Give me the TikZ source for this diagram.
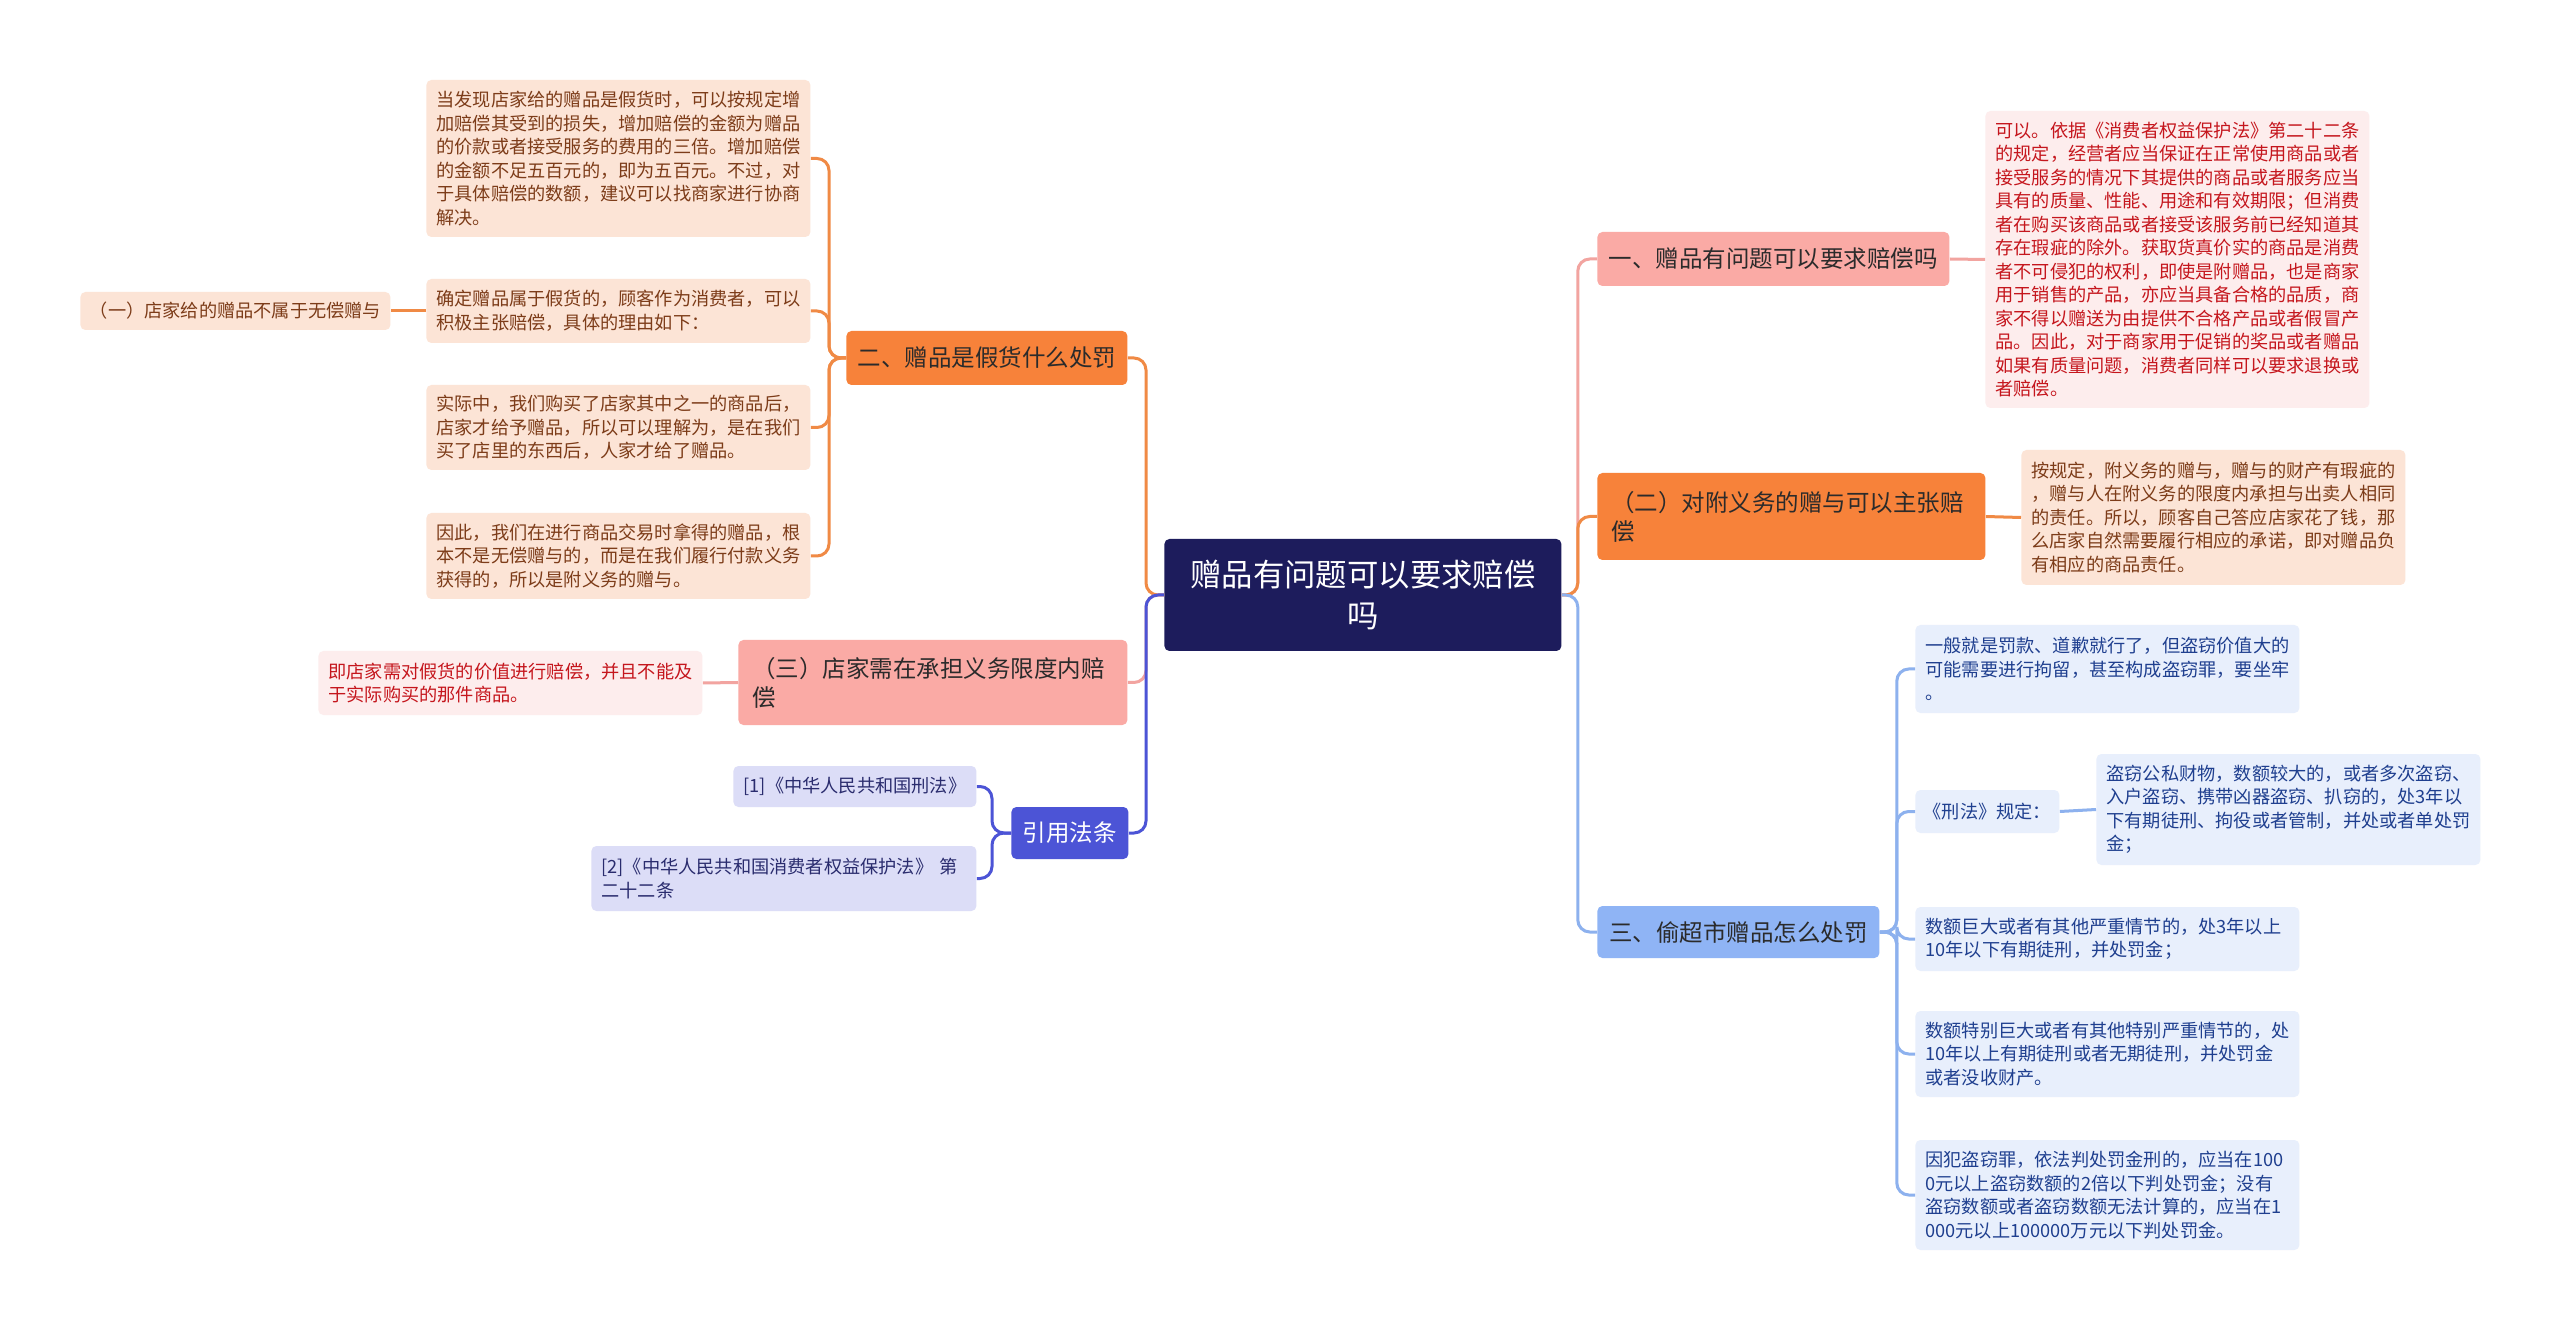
\documentclass[tikz,border=0pt]{standalone}
\usepackage{fontspec}
\setmainfont{Noto Sans CJK SC}
\definecolor{navy}{HTML}{1D1C5C}
\definecolor{orng}{HTML}{F7823A}
\definecolor{orngL}{HTML}{F08A45}
\definecolor{peach}{HTML}{FCE4D6}
\definecolor{peachT}{HTML}{7D3C19}
\definecolor{pnk}{HTML}{FAAAA5}
\definecolor{pnkL}{HTML}{F2A4A0}
\definecolor{pnkF}{HTML}{FDEDED}
\definecolor{pnkT}{HTML}{C5161D}
\definecolor{vio}{HTML}{4C54D6}
\definecolor{lav}{HTML}{DCDDF7}
\definecolor{lavT}{HTML}{2A2C6E}
\definecolor{blu}{HTML}{8FB4F5}
\definecolor{bluL}{HTML}{8DB1EE}
\definecolor{bluF}{HTML}{E8EFFC}
\definecolor{bluT}{HTML}{1F3F8F}
\definecolor{darkT}{HTML}{2B2B2B}
\tikzset{
  base/.style={anchor=west, rounded corners=2.5pt, inner ysep=0pt},
  small/.style={font=\fontsize{9.1pt}{11.75pt}\selectfont},
  big/.style={font=\fontsize{11.75pt}{14.5pt}\selectfont},
  detail/.style={base, small, inner xsep=5pt, text width=182pt, align=left},
  peachbox/.style={detail, fill=peach, text=peachT},
  redbox/.style={detail, fill=pnkF, text=pnkT},
  lavbox/.style={base, small, fill=lav, text=lavT},
  bluebox/.style={detail, fill=bluF, text=bluT},
  branch/.style={base, big, text=darkT},
  conn/.style={line width=1.5pt, rounded corners=6pt},
  orL/.style={conn, draw=orngL},
  pkL/.style={conn, draw=pnkL},
  vlL/.style={conn, draw=vio},
  blL/.style={conn, draw=bluL},
}
\begin{document}
\begin{tikzpicture}[x=0.5pt, y=-0.5pt]
\useasboundingbox[fill=white] (0,0) rectangle (2560,1331);

% centre
\node[base, fill=navy, text=white, font=\fontsize{15.7pt}{20.5pt}\selectfont, align=center, minimum width=198.5pt, minimum height=56pt] (c) at (1164,595) {赠品有问题可以要求赔偿\\吗};

% left branches
\node[branch, fill=orng, minimum width=140.5pt, minimum height=27pt, align=center] (b2) at (846,358) {二、赠品是假货什么处罚};
\node[peachbox, minimum height=78.5pt] (t1) at (426,158.5) {当发现店家给的赠品是假货时，可以按规定增\\加赔偿其受到的损失，增加赔偿的金额为赠品\\的价款或者接受服务的费用的三倍。增加赔偿\\的金额不足五百元的，即为五百元。不过，对\\于具体赔偿的数额，建议可以找商家进行协商\\解决。};
\node[peachbox, minimum height=32pt] (t2) at (426,311) {确定赠品属于假货的，顾客作为消费者，可以\\积极主张赔偿，具体的理由如下：};
\node[base, small, fill=peach, text=peachT, minimum width=155pt, minimum height=19pt, align=center] (y1) at (80,311) {（一）店家给的赠品不属于无偿赠与};
\node[peachbox, minimum height=42.5pt] (t3) at (426,427.5) {实际中，我们购买了店家其中之一的商品后，\\店家才给予赠品，所以可以理解为，是在我们\\买了店里的东西后，人家才给了赠品。};
\node[peachbox, minimum height=43pt] (t4) at (426,556) {因此，我们在进行商品交易时拿得的赠品，根\\本不是无偿赠与的，而是在我们履行付款义务\\获得的，所以是附义务的赠与。};

\node[branch, fill=pnk, inner xsep=7pt, text width=180.5pt, align=left, minimum height=42.5pt] (b3) at (738,682.5) {（三）店家需在承担义务限度内赔\\偿};
\node[redbox, minimum height=32pt] (b3c) at (318,683) {即店家需对假货的价值进行赔偿，并且不能及\\于实际购买的那件商品。};

\node[base, big, fill=vio, text=white, minimum width=58.5pt, minimum height=26pt, align=center] (bl) at (1011,833) {引用法条};
\node[lavbox, minimum width=121.5pt, minimum height=20.5pt, align=center] (l1) at (733,786.5) {[1]《中华人民共和国刑法》};
\node[lavbox, inner xsep=5pt, text width=182.5pt, align=left, minimum height=32.5pt] (l2) at (591,878.5) {[2]《中华人民共和国消费者权益保护法》 第\\二十二条};

% right branches
\node[branch, fill=pnk, minimum width=176pt, minimum height=27pt, align=center] (r1) at (1597,259) {一、赠品有问题可以要求赔偿吗};
\node[redbox, minimum height=148.5pt] (r1c) at (1985,259.5) {可以。依据《消费者权益保护法》第二十二条\\的规定，经营者应当保证在正常使用商品或者\\接受服务的情况下其提供的商品或者服务应当\\具有的质量、性能、用途和有效期限；但消费\\者在购买该商品或者接受该服务前已经知道其\\存在瑕疵的除外。获取货真价实的商品是消费\\者不可侵犯的权利，即使是附赠品，也是商家\\用于销售的产品，亦应当具备合格的品质，商\\家不得以赠送为由提供不合格产品或者假冒产\\品。因此，对于商家用于促销的奖品或者赠品\\如果有质量问题，消费者同样可以要求退换或\\者赔偿。};

\node[branch, fill=orng, inner xsep=7pt, text width=180pt, align=left, minimum height=43.5pt] (r2) at (1597,516.5) {（二）对附义务的赠与可以主张赔\\偿};
\node[peachbox, minimum height=67.5pt] (r2c) at (2021,517.5) {按规定，附义务的赠与，赠与的财产有瑕疵的\\，赠与人在附义务的限度内承担与出卖人相同\\的责任。所以，顾客自己答应店家花了钱，那\\么店家自然需要履行相应的承诺，即对赠品负\\有相应的商品责任。};

\node[branch, fill=blu, minimum width=141pt, minimum height=26pt, align=center] (r3) at (1597,932) {三、偷超市赠品怎么处罚};
\node[bluebox, minimum height=44pt] (s1) at (1915,669) {一般就是罚款、道歉就行了，但盗窃价值大的\\可能需要进行拘留，甚至构成盗窃罪，要坐牢\\。};
\node[base, small, fill=bluF, text=bluT, minimum width=72pt, minimum height=21.5pt, align=center] (s2) at (1915,811.5) {《刑法》规定：};
\node[bluebox, minimum height=55.5pt] (s2c) at (2096,809.5) {盗窃公私财物，数额较大的，或者多次盗窃、\\入户盗窃、携带凶器盗窃、扒窃的，处3年以\\下有期徒刑、拘役或者管制，并处或者单处罚\\金；};
\node[bluebox, minimum height=32pt] (s3) at (1915,939) {数额巨大或者有其他严重情节的，处3年以上\\10年以下有期徒刑，并处罚金；};
\node[bluebox, minimum height=43pt] (s4) at (1915,1054) {数额特别巨大或者有其他特别严重情节的，处\\10年以上有期徒刑或者无期徒刑，并处罚金\\或者没收财产。};
\node[bluebox, minimum height=55pt] (s5) at (1915,1195) {因犯盗窃罪，依法判处罚金刑的，应当在100\\0元以上盗窃数额的2倍以下判处罚金；没有\\盗窃数额或者盗窃数额无法计算的，应当在1\\000元以上100000万元以下判处罚金。};

% connectors
\draw[orL] (c.west) -- ++(-18,0) |- (b2.east);
\draw[pkL] (c.west) -- ++(-18,0) |- (b3.east);
\draw[vlL] (c.west) -- ++(-18,0) |- (bl.east);
\draw[pkL] (c.east) -- ++(16,0) |- (r1.west);
\draw[orL] (c.east) -- ++(16,0) |- (r2.west);
\draw[blL] (c.east) -- ++(16,0) |- (r3.west);

\foreach \t in {t1,t2,t3,t4} \draw[orL] (b2.west) -- ++(-17,0) |- (\t.east);
\draw[orL] (t2.west) -- (y1.east);
\draw[pkL] (b3.west) -- (b3c.east);
\draw[vlL] (bl.west) -- ++(-19,0) |- (l1.east);
\draw[vlL] (bl.west) -- ++(-19,0) |- (l2.east);
\draw[pkL] (r1.east) -- (r1c.west);
\draw[orL] (r2.east) -- (r2c.west);
\foreach \s in {s1,s2,s3,s4,s5} \draw[blL] (r3.east) -- ++(17,0) |- (\s.west);
\draw[blL] (s2.east) -- (s2c.west);
\end{tikzpicture}
\end{document}
